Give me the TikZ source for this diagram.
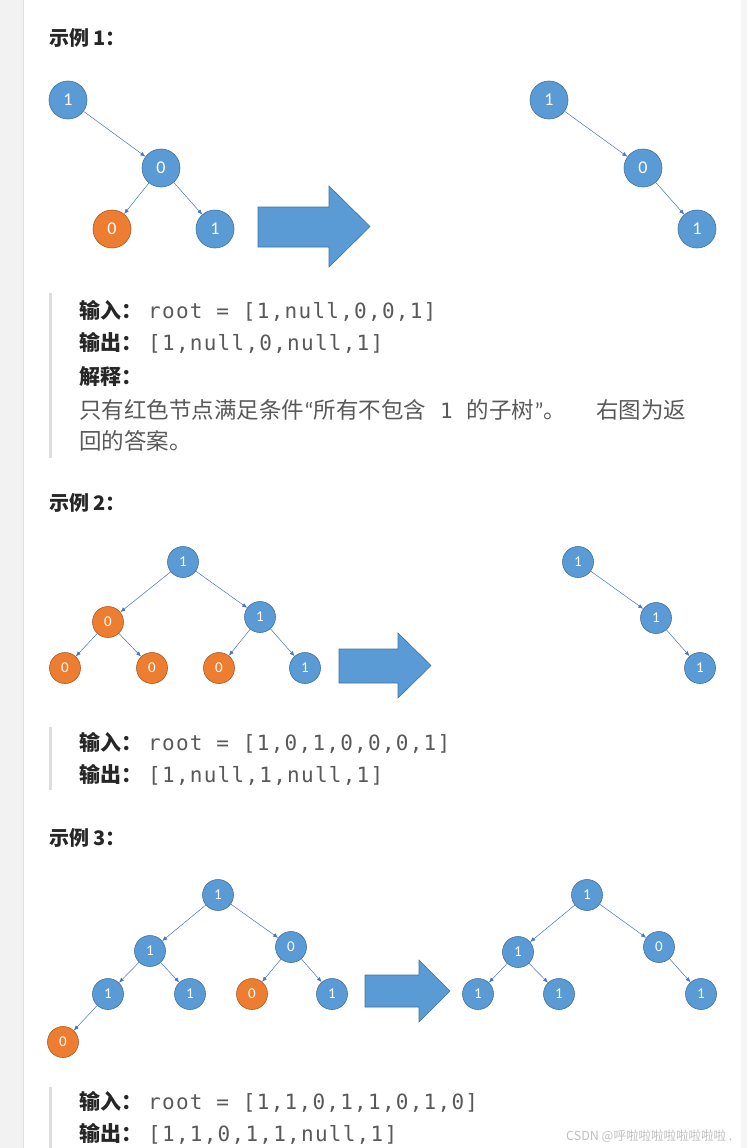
\documentclass[tikz,border=0pt]{standalone}
\usepackage{fontspec}
\usetikzlibrary{arrows.meta}
\setmainfont{Carlito}
\newfontfamily\cjk{Noto Sans CJK SC}
\newfontfamily\mono[LetterSpace=6]{DejaVu Sans Mono}
\definecolor{nodeblue}{HTML}{5B9BD5}
\definecolor{nodeblueline}{HTML}{41719C}
\definecolor{nodeorange}{HTML}{ED7D31}
\definecolor{nodeorangeline}{HTML}{AE5A21}
\definecolor{edgeblue}{HTML}{4472C4}
\definecolor{textgray}{HTML}{595959}
\definecolor{titleblack}{HTML}{262626}
\definecolor{sidegray}{HTML}{F2F2F2}
\definecolor{quotebar}{HTML}{DDDDDD}
\begin{document}
\begin{tikzpicture}[x=1pt,y=-1pt,
  nodo/.style={circle,draw=nodeblueline,fill=nodeblue,text=white,inner sep=0pt,line width=0.6pt},
  rosso/.style={nodo,draw=nodeorangeline,fill=nodeorange},
  grande/.style={minimum size=38pt,font=\fontsize{18}{18}\selectfont},
  piccolo/.style={minimum size=31pt,font=\fontsize{15}{15}\selectfont},
  ramo/.style={draw=edgeblue,line width=0.5pt,-{Latex[length=5pt,width=4pt]}},
  freccia/.style={fill=nodeblue,draw=nodeblueline,line width=0.6pt},
  titolo/.style={anchor=west,inner sep=0pt,text=titleblack,font=\cjk\bfseries\fontsize{20}{20}\selectfont},
  riga/.style={anchor=west,inner sep=0pt,text=textgray,font=\cjk\fontsize{21}{21}\selectfont},
  testo/.style={riga,font=\cjk\fontsize{22.5}{22.5}\selectfont}]
  \useasboundingbox (0,0) rectangle (747,1148);
  % bordi grigi della pagina
  \fill[sidegray] (0,0) rectangle (23,1148);
  \draw[gray!25] (23,0) -- (23,1148);
  \fill[sidegray!70] (741,0) rectangle (747,1148);

  % esempio 1
  \node[titolo] (t1) at (49,38) {示例 1：};
  \node[nodo,grande] (a1) at (68,100) {1};
  \node[nodo,grande] (a2) at (161,168) {0};
  \node[rosso,grande] (a3) at (112,229) {0};
  \node[nodo,grande] (a4) at (215,229) {1};
  \foreach \p/\f in {a1/a2,a2/a3,a2/a4} \draw[ramo] (\p) -- (\f);
  \draw[freccia] (258,207) -- (329,207) -- (329,186) -- (370,226.5) -- (329,267) -- (329,247) -- (258,247) -- cycle;
  \node[nodo,grande] (b1) at (549,100) {1};
  \node[nodo,grande] (b2) at (643,168) {0};
  \node[nodo,grande] (b3) at (697,229) {1};
  \foreach \p/\f in {b1/b2,b2/b3} \draw[ramo] (\p) -- (\f);

  \fill[quotebar] (49,293) rectangle (52,458);
  \node[riga] (in1) at (79,311) {\textcolor{titleblack}{\bfseries 输入：}\hspace{6pt}{\mono root = [1,null,0,0,1]}};
  \node[riga] (out1) at (79,343) {\textcolor{titleblack}{\bfseries 输出：}\hspace{6pt}{\mono [1,null,0,null,1]}};
  \node[riga] (sp1) at (79,377) {\textcolor{titleblack}{\bfseries 解释：}};
  \node[testo] (sp2) at (79,410) {只有红色节点满足条件{\rmfamily “}所有不包含\hspace{14pt}{\mono\fontsize{21}{21}\selectfont 1}\hspace{14pt}的子树{\rmfamily ”}。\hspace{30pt}右图为返};
  \node[testo] (sp3) at (79,441) {回的答案。};

  % esempio 2
  \node[titolo] (t2) at (49,503) {示例 2：};
  \node[nodo,piccolo] (c1) at (183,562) {1};
  \node[rosso,piccolo] (c2) at (108,622) {0};
  \node[nodo,piccolo] (c3) at (260,617) {1};
  \node[rosso,piccolo] (c4) at (65,668) {0};
  \node[rosso,piccolo] (c5) at (152,668) {0};
  \node[rosso,piccolo] (c6) at (219,668) {0};
  \node[nodo,piccolo] (c7) at (305,668) {1};
  \foreach \p/\f in {c1/c2,c1/c3,c2/c4,c2/c5,c3/c6,c3/c7} \draw[ramo] (\p) -- (\f);
  \draw[freccia] (339,649) -- (398,649) -- (398,633) -- (431,665.5) -- (398,698) -- (398,683) -- (339,683) -- cycle;
  \node[nodo,piccolo] (d1) at (578,562) {1};
  \node[nodo,piccolo] (d2) at (656,618) {1};
  \node[nodo,piccolo] (d3) at (700,668) {1};
  \foreach \p/\f in {d1/d2,d2/d3} \draw[ramo] (\p) -- (\f);

  \fill[quotebar] (49,727) rectangle (52,790);
  \node[riga] (in2) at (79,743) {\textcolor{titleblack}{\bfseries 输入：}\hspace{6pt}{\mono root = [1,0,1,0,0,0,1]}};
  \node[riga] (out2) at (79,775) {\textcolor{titleblack}{\bfseries 输出：}\hspace{6pt}{\mono [1,null,1,null,1]}};

  % esempio 3
  \node[titolo] (t3) at (49,838) {示例 3：};
  \node[nodo,piccolo] (e1) at (218,895) {1};
  \node[nodo,piccolo] (e2) at (150,951) {1};
  \node[nodo,piccolo] (e3) at (291,947) {0};
  \node[nodo,piccolo] (e4) at (108,994) {1};
  \node[nodo,piccolo] (e5) at (190,994) {1};
  \node[rosso,piccolo] (e6) at (252,994) {0};
  \node[nodo,piccolo] (e7) at (332,994) {1};
  \node[rosso,piccolo] (e8) at (63,1042) {0};
  \foreach \p/\f in {e1/e2,e1/e3,e2/e4,e2/e5,e3/e6,e3/e7,e4/e8} \draw[ramo] (\p) -- (\f);
  \draw[freccia] (365,975) -- (419,975) -- (419,960) -- (450,991) -- (419,1022) -- (419,1007) -- (365,1007) -- cycle;
  \node[nodo,piccolo] (f1) at (587,895) {1};
  \node[nodo,piccolo] (f2) at (518,952) {1};
  \node[nodo,piccolo] (f3) at (659,947) {0};
  \node[nodo,piccolo] (f4) at (478,994) {1};
  \node[nodo,piccolo] (f5) at (559,994) {1};
  \node[nodo,piccolo] (f6) at (701,994) {1};
  \foreach \p/\f in {f1/f2,f1/f3,f2/f4,f2/f5,f3/f6} \draw[ramo] (\p) -- (\f);

  \fill[quotebar] (49,1087) rectangle (52,1148);
  \node[riga] (in3) at (79,1102) {\textcolor{titleblack}{\bfseries 输入：}\hspace{6pt}{\mono root = [1,1,0,1,1,0,1,0]}};
  \node[riga] (out3) at (79,1134) {\textcolor{titleblack}{\bfseries 输出：}\hspace{6pt}{\mono [1,1,0,1,1,null,1]}};
  \node[anchor=west,inner sep=0pt,text=gray!50,font=\cjk\fontsize{12.5}{13}\selectfont] (wm) at (566,1136) {CSDN @呼啦啦啦啦啦啦啦啦 .};
\end{tikzpicture}
\end{document}
